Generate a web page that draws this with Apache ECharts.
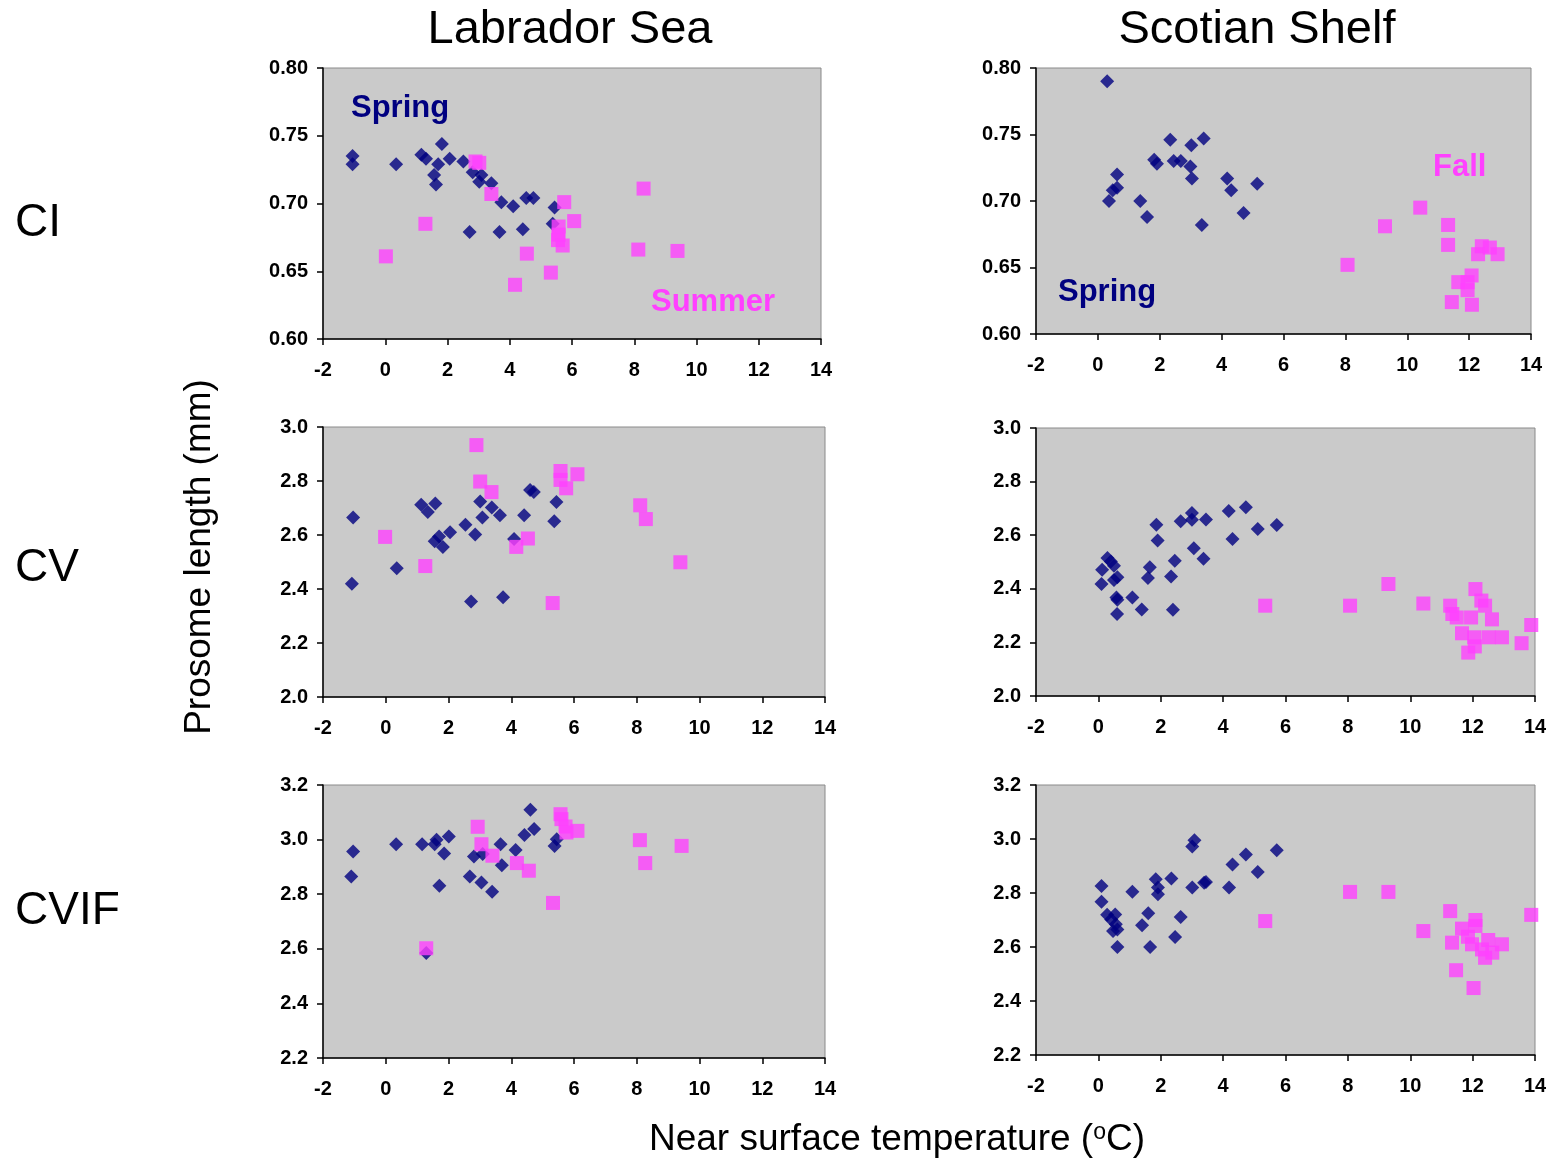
<!DOCTYPE html>
<html>
<head>
<meta charset="utf-8">
<title>Prosome length vs near surface temperature</title>
<script src="https://cdn.jsdelivr.net/npm/echarts@6/dist/echarts.min.js"></script>
<style>
  html, body { margin: 0; padding: 0; background: #ffffff; }
  #chart { width: 1552px; height: 1162px; }
</style>
</head>
<body>
<div id="chart"></div>
<script>
// ---- Data: [temperature (°C), prosome length (mm)] ----
const labCISpring = [[-1.05,0.735],[-1.05,0.729],[0.35,0.729],[1.16,0.736],[1.31,0.733],[1.82,0.744],[1.70,0.729],[1.57,0.721],[1.63,0.714],[2.07,0.733],[2.51,0.731],[2.81,0.723],[3.09,0.721],[3.02,0.716],[3.41,0.715],[3.73,0.701],[4.11,0.698],[4.53,0.704],[4.76,0.704],[5.44,0.697],[5.38,0.685],[2.71,0.679],[3.67,0.679],[4.42,0.681]];
const labCISummer = [[0.02,0.661],[1.29,0.685],[2.90,0.731],[3.02,0.730],[3.41,0.707],[4.17,0.640],[4.55,0.663],[5.32,0.649],[5.57,0.683],[5.57,0.677],[5.55,0.673],[5.70,0.669],[5.75,0.701],[6.07,0.687],[8.13,0.666],[8.30,0.711],[9.39,0.665]];

const scoCISpring = [[0.30,0.790],[2.34,0.746],[3.42,0.747],[3.02,0.742],[1.82,0.731],[1.91,0.728],[2.45,0.730],[2.68,0.730],[2.99,0.726],[3.04,0.717],[0.62,0.720],[0.62,0.710],[0.48,0.708],[0.36,0.700],[1.37,0.700],[1.59,0.688],[3.36,0.682],[4.18,0.717],[4.31,0.708],[4.71,0.691],[5.15,0.713]];
const scoCIFall = [[8.07,0.652],[9.28,0.681],[10.42,0.695],[11.32,0.682],[11.32,0.667],[11.44,0.624],[12.09,0.622],[11.65,0.639],[11.95,0.633],[12.08,0.644],[11.95,0.639],[12.29,0.660],[12.41,0.666],[12.67,0.665],[12.92,0.660]];

const labCVSpring = [[-1.04,2.665],[-1.08,2.419],[0.35,2.477],[1.13,2.712],[1.34,2.685],[1.58,2.717],[1.56,2.577],[1.70,2.594],[1.82,2.556],[2.05,2.610],[2.54,2.638],[2.85,2.602],[3.01,2.724],[3.08,2.665],[3.38,2.702],[3.64,2.673],[2.72,2.354],[3.74,2.369],[4.09,2.585],[4.41,2.673],[4.60,2.767],[4.72,2.759],[5.44,2.722],[5.37,2.651]];
const labCVSummer = [[-0.02,2.593],[1.26,2.485],[2.89,2.933],[3.01,2.798],[3.37,2.759],[4.16,2.556],[4.53,2.587],[5.32,2.348],[5.57,2.837],[5.57,2.804],[5.75,2.773],[6.11,2.825],[8.11,2.710],[8.29,2.659],[9.39,2.499]];

const scoCVSpring = [[0.12,2.471],[0.10,2.418],[0.29,2.515],[0.40,2.502],[0.50,2.486],[0.50,2.433],[0.61,2.443],[0.58,2.368],[0.61,2.359],[0.60,2.306],[1.09,2.368],[1.39,2.323],[1.65,2.480],[1.59,2.440],[1.86,2.639],[1.90,2.580],[2.33,2.446],[2.45,2.505],[2.39,2.322],[2.64,2.652],[3.00,2.683],[3.00,2.658],[3.06,2.551],[3.45,2.659],[3.37,2.512],[4.18,2.690],[4.30,2.586],[4.73,2.704],[5.11,2.623],[5.72,2.638]];
const scoCVFall = [[5.35,2.337],[8.07,2.337],[9.30,2.418],[10.42,2.345],[11.28,2.337],[11.35,2.306],[11.49,2.293],[11.95,2.293],[11.66,2.234],[11.86,2.162],[12.05,2.219],[12.07,2.185],[12.09,2.399],[12.28,2.356],[12.40,2.337],[12.62,2.286],[12.51,2.219],[12.94,2.219],[13.57,2.197],[13.88,2.265]];

const labCVIFSpring = [[-1.04,2.956],[-1.10,2.865],[0.33,2.983],[1.16,2.983],[1.56,2.983],[1.62,2.999],[1.86,2.949],[2.01,3.011],[1.71,2.831],[1.29,2.585],[2.68,2.865],[2.81,2.938],[3.05,2.843],[3.09,2.947],[3.39,2.809],[3.66,2.983],[3.70,2.906],[4.14,2.962],[4.42,3.017],[4.61,3.109],[4.73,3.039],[5.38,2.977],[5.45,3.001]];
const labCVIFSummer = [[1.29,2.602],[2.93,3.047],[3.05,2.983],[3.40,2.941],[4.18,2.914],[4.56,2.886],[5.33,2.768],[5.57,3.093],[5.60,3.075],[5.73,3.048],[5.76,3.026],[6.11,3.032],[8.10,2.998],[8.27,2.914],[9.43,2.977]];

const scoCVIFSpring = [[0.10,2.826],[0.10,2.768],[0.28,2.719],[0.41,2.702],[0.54,2.720],[0.47,2.659],[0.61,2.665],[0.56,2.684],[0.61,2.600],[1.09,2.805],[1.40,2.681],[1.60,2.725],[1.66,2.600],[1.84,2.851],[1.91,2.820],[1.91,2.795],[2.34,2.854],[2.46,2.637],[2.64,2.711],[3.01,2.972],[3.08,2.995],[3.01,2.820],[3.39,2.838],[3.45,2.841],[4.19,2.820],[4.30,2.906],[4.73,2.943],[5.11,2.878],[5.72,2.958]];
const scoCVIFFall = [[5.35,2.696],[8.07,2.804],[9.30,2.804],[10.42,2.659],[11.28,2.733],[11.34,2.616],[11.47,2.514],[11.66,2.668],[11.85,2.638],[11.98,2.610],[12.09,2.700],[12.09,2.678],[12.03,2.448],[12.30,2.591],[12.40,2.560],[12.50,2.626],[12.63,2.579],[12.94,2.610],[13.88,2.719]];

// ---- Axis ranges ----
const tempRange = { min: -2, max: 14, interval: 2 };
const ciRange   = { min: 0.60, max: 0.80, interval: 0.05, digits: 2 };
const cvRange   = { min: 2.0, max: 3.0, interval: 0.2, digits: 1 };
const cvifRange = { min: 2.2, max: 3.2, interval: 0.2, digits: 1 };

const regionTitles = ['Labrador Sea', 'Scotian Shelf'];
const stageLabels = ['CI', 'CV', 'CVIF'];

// ---- Styling ----
const FONT = '"Liberation Sans", Arial, Helvetica, sans-serif';
const NAVY = '#000080';
const PINK = '#FF40FF';
const PLOT_BG = '#CACACA';

// panel boxes: [left, top, width, height]
const panels = [
  { box: [323, 68, 498, 271],  range: ciRange,   spring: labCISpring,   warm: labCISummer },
  { box: [1036, 68, 495, 266], range: ciRange,   spring: scoCISpring,   warm: scoCIFall },
  { box: [323, 427, 502, 270], range: cvRange,   spring: labCVSpring,   warm: labCVSummer },
  { box: [1036, 428, 499, 268],range: cvRange,   spring: scoCVSpring,   warm: scoCVFall },
  { box: [323, 785, 502, 273], range: cvifRange, spring: labCVIFSpring, warm: labCVIFSummer },
  { box: [1036, 785, 499, 270],range: cvifRange, spring: scoCVIFSpring, warm: scoCVIFFall }
];

const tickLabel = { fontFamily: FONT, fontWeight: 'bold', fontSize: 20, color: '#000' };

const grid = [], xAxis = [], yAxis = [], series = [];
panels.forEach((p, i) => {
  const [l, t, w, h] = p.box;
  grid.push({
    left: l, top: t, width: w, height: h,
    show: true, backgroundColor: PLOT_BG, borderColor: '#8a8a8a', borderWidth: 1
  });
  xAxis.push({
    gridIndex: i, type: 'value',
    min: tempRange.min, max: tempRange.max, interval: tempRange.interval,
    axisLine: { show: true, onZero: false, lineStyle: { color: '#000', width: 1.5 } },
    axisTick: { show: true, inside: false, length: 6, lineStyle: { color: '#000', width: 1.5 } },
    axisLabel: Object.assign({ margin: 21 }, tickLabel),
    splitLine: { show: false }
  });
  yAxis.push({
    gridIndex: i, type: 'value',
    min: p.range.min, max: p.range.max, interval: p.range.interval,
    axisLine: { show: true, onZero: false, lineStyle: { color: '#000', width: 1.5 } },
    axisTick: { show: true, inside: false, length: 6, lineStyle: { color: '#000', width: 1.5 } },
    axisLabel: Object.assign({ margin: 15, formatter: v => v.toFixed(p.range.digits) }, tickLabel),
    splitLine: { show: false }
  });
  series.push({
    type: 'scatter', xAxisIndex: i, yAxisIndex: i, data: p.spring,
    symbol: 'diamond', symbolSize: 14, itemStyle: { color: NAVY }, z: 2
  });
  series.push({
    type: 'scatter', xAxisIndex: i, yAxisIndex: i, data: p.warm,
    symbol: 'rect', symbolSize: 14, itemStyle: { color: PINK }, z: 3
  });
});

function txt(text, x, y, size, opts) {
  return Object.assign({
    type: 'text', x: x, y: y, z: 10,
    style: Object.assign({
      text: text, fontFamily: FONT, fontSize: size, fill: '#000',
      textAlign: 'center', textVerticalAlign: 'middle'
    }, (opts && opts.style) || {})
  }, (opts && opts.props) || {});
}

const graphic = [
  txt(regionTitles[0], 570, 30, 47),
  txt(regionTitles[1], 1257, 30, 47),
  txt(stageLabels[0], 15, 223, 46, { style: { textAlign: 'left' } }),
  txt(stageLabels[1], 15, 568, 46, { style: { textAlign: 'left' } }),
  txt(stageLabels[2], 15, 911, 46, { style: { textAlign: 'left' } }),
  txt('Prosome length (mm)', 200, 557, 37, { props: { rotation: Math.PI / 2 } }),
  {
    type: 'text', x: 897, y: 1140, z: 10,
    style: {
      text: '{a|Near surface temperature (}{s|o}{a|C)}',
      textAlign: 'center', textVerticalAlign: 'middle',
      rich: {
        a: { fontFamily: FONT, fontSize: 37, fill: '#000', lineHeight: 40 },
        s: { fontFamily: FONT, fontSize: 23, fill: '#000', lineHeight: 40, padding: [0, 0, 14, 0] }
      }
    }
  },
  txt('Spring', 351, 108, 31, { style: { textAlign: 'left', fontWeight: 'bold', fill: NAVY } }),
  txt('Summer', 651, 302, 31, { style: { textAlign: 'left', fontWeight: 'bold', fill: PINK } }),
  txt('Spring', 1058, 292, 31, { style: { textAlign: 'left', fontWeight: 'bold', fill: NAVY } }),
  txt('Fall', 1433, 167, 31, { style: { textAlign: 'left', fontWeight: 'bold', fill: PINK } })
];

const chart = echarts.init(document.getElementById('chart'), null, { renderer: 'canvas' });
chart.setOption({
  animation: false,
  backgroundColor: '#ffffff',
  grid: grid, xAxis: xAxis, yAxis: yAxis, series: series, graphic: graphic
});
</script>
</body>
</html>
